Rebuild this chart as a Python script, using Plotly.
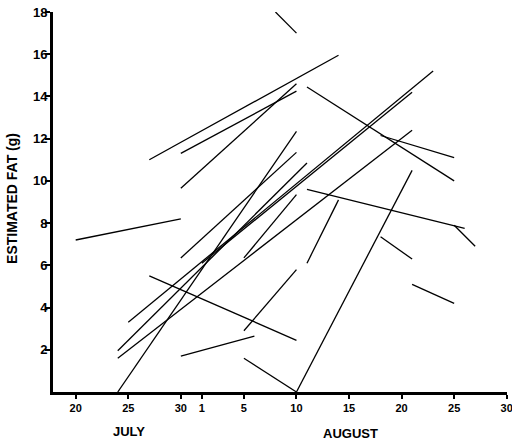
import pandas as pd
import plotly.graph_objects as go

# Each segment: one bird, first and last capture (date, estimated fat in g)
start_dates = ["2000-07-20", "2000-07-27", "2000-07-30", "2000-07-30", "2000-08-08",
               "2000-08-11", "2000-08-18", "2000-07-24", "2000-07-30", "2000-07-24",
               "2000-07-24", "2000-07-25", "2000-08-01", "2000-07-27", "2000-08-05",
               "2000-07-30", "2000-08-05", "2000-08-10", "2000-08-11", "2000-08-11",
               "2000-08-25", "2000-08-18", "2000-08-21", "2000-08-05"]
start_fat = [7.2, 11.0, 11.3, 9.65, 18.0,
             14.45, 12.15, 0.0, 6.35, 1.95,
             1.6, 3.3, 6.1, 5.5, 2.9,
             1.7, 1.6, 0.0, 6.1, 9.6,
             7.9, 7.35, 5.1, 6.35]
end_dates = ["2000-07-30", "2000-08-14", "2000-08-10", "2000-08-10", "2000-08-10",
             "2000-08-25", "2000-08-25", "2000-08-10", "2000-08-10", "2000-08-11",
             "2000-08-21", "2000-08-23", "2000-08-21", "2000-08-10", "2000-08-10",
             "2000-08-06", "2000-08-10", "2000-08-21", "2000-08-14", "2000-08-26",
             "2000-08-27", "2000-08-21", "2000-08-25", "2000-08-10"]
end_fat = [8.2, 15.95, 14.25, 14.6, 17.0,
           10.0, 11.1, 12.35, 11.35, 10.85,
           12.4, 15.2, 14.2, 2.45, 5.8,
           2.65, 0.0, 10.5, 9.1, 7.75,
           6.9, 6.3, 4.2, 9.35]

x_tick_dates = ["2000-07-20", "2000-07-25", "2000-07-30", "2000-08-01", "2000-08-05",
                "2000-08-10", "2000-08-15", "2000-08-20", "2000-08-25", "2000-08-30"]
x_tick_text = ["20", "25", "30", "1", "5", "10", "15", "20", "25", "30"]
y_tick_vals = [2, 4, 6, 8, 10, 12, 14, 16, 18]

xs, ys = [], []
for sd, sf, ed, ef in zip(start_dates, start_fat, end_dates, end_fat):
    xs += [sd, ed, None]
    ys += [sf, ef, None]

fig = go.Figure()
fig.add_trace(go.Scatter(x=xs, y=ys, mode="lines",
                         line=dict(color="black", width=1.3),
                         connectgaps=False, showlegend=False, hoverinfo="skip"))

font_family = "Liberation Sans, Arial, sans-serif"
fig.update_layout(
    width=512, height=443,
    margin=dict(l=53, r=5, t=12, b=51),
    paper_bgcolor="white", plot_bgcolor="white",
    xaxis=dict(type="date", range=["2000-07-17 20:10", "2000-08-30 00:40"],
               tickvals=x_tick_dates, ticktext=x_tick_text,
               ticklabeloverflow="allow", automargin=False,
               showgrid=False, zeroline=False,
               showline=True, linecolor="black", linewidth=3,
               ticks="outside", ticklen=4, tickwidth=1.5, tickcolor="black",
               tickfont=dict(family=font_family, size=11, color="black", weight="bold")),
    yaxis=dict(range=[0, 18], tickvals=y_tick_vals, automargin=False,
               showgrid=False, zeroline=False,
               showline=True, linecolor="black", linewidth=3,
               ticks="outside", ticklen=5, tickwidth=1.5, tickcolor="black",
               ticklabelstandoff=-5,
               tickfont=dict(family=font_family, size=13, color="black", weight="bold")),
    annotations=[
        dict(text="JULY", xref="paper", yref="paper", x=0.1685, y=0,
             xanchor="center", yanchor="middle", yshift=-39, showarrow=False,
             font=dict(family=font_family, size=13, color="black", weight="bold")),
        dict(text="AUGUST", xref="paper", yref="paper", x=0.656, y=0,
             xanchor="center", yanchor="middle", yshift=-41, showarrow=False,
             font=dict(family=font_family, size=13, color="black", weight="bold")),
        dict(text="ESTIMATED FAT (g)", xref="paper", yref="paper", x=0, y=0.508,
             xanchor="center", yanchor="middle", xshift=-41, textangle=-90,
             showarrow=False,
             font=dict(family=font_family, size=14, color="black", weight="bold")),
    ],
)

fig.write_html("out.html", config={"displayModeBar": False},
               post_script="document.body.style.margin='0';")
